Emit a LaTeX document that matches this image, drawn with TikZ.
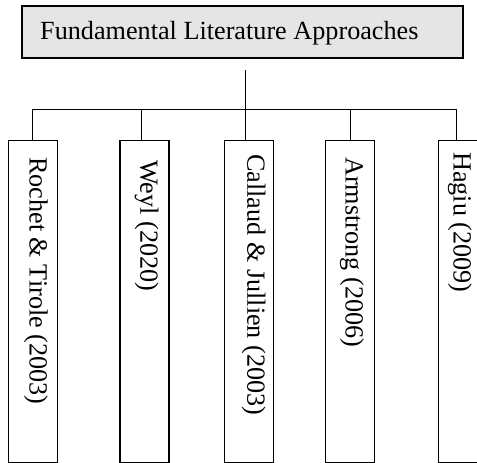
\documentclass[tikz,border=0pt]{standalone}
\usepackage{fontspec}
\setmainfont{Liberation Serif}
\begin{document}
\begin{tikzpicture}[x=1pt,y=-1pt,
  titlebox/.style={draw, line width=2pt, fill=black!10, minimum width=441pt,
    minimum height=52pt, anchor=north west, inner sep=0pt},
  titletext/.style={anchor=base west, inner sep=0pt,
    font=\fontsize{26.2}{30}\selectfont},
  leafbox/.style={draw, line width=1.2pt, minimum width=49pt,
    minimum height=322pt, anchor=north, inner sep=0pt},
  leaftext/.style={rotate=-90, anchor=west, inner sep=0pt,
    font=\fontsize{26.2}{30}\selectfont},
  link/.style={line width=1pt}]
\useasboundingbox (0,0) rectangle (477,463);
\clip (0,0) rectangle (477,463);

% heading
\node[titlebox] (title) at (21,5) {};
\node[titletext] (titlelabel) at (40,39) {Fundamental Literature Approaches};

% the five literature boxes
\node[leafbox] (b1) at (32.8,140) {};
\node[leafbox] (b2) at (144.5,140) {};
\node[leafbox] (b3) at (249.2,140) {};
\node[leafbox] (b4) at (350,140) {};
\node[leafbox] (b5) at (463,140) {};

\node[leaftext] (t1) at (35.8,157) {Rochet \& Tirole (2003)};
\node[leaftext] (t2) at (146.7,160) {Weyl (2020)};
\node[leaftext] (t3) at (253.7,154) {Callaud \& Jullien (2003)};
\node[leaftext] (t4) at (352,157) {Armstrong (2006)};
\node[leaftext] (t5) at (460,152) {Hagiu (2009)};

% tree connectors
\coordinate (stem) at (245.7,70);
\coordinate (hub) at (245.7,109);
\coordinate (d1) at (32.3,109);
\coordinate (d2) at (141.7,109);
\coordinate (d3) at (245.7,109);
\coordinate (d4) at (350.7,109);
\coordinate (d5) at (456.7,109);

\draw[link] (stem) -- (hub);
\draw[link] (d1) -- (d5);
\draw[link] (d1) -- (d1 |- b1.north);
\draw[link] (d2) -- (d2 |- b2.north);
\draw[link] (d3) -- (d3 |- b3.north);
\draw[link] (d4) -- (d4 |- b4.north);
\draw[link] (d5) -- (d5 |- b5.north);
\end{tikzpicture}
\end{document}
